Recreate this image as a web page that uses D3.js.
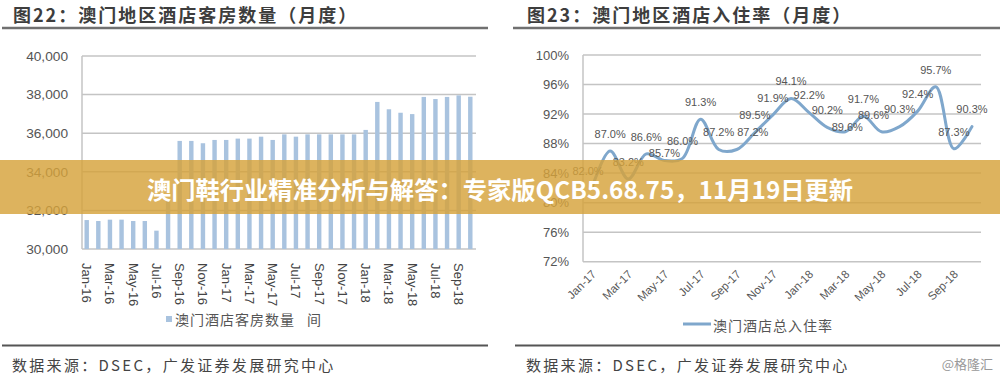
<!DOCTYPE html>
<html lang="zh">
<head>
<meta charset="utf-8">
<script src="https://cdn.jsdelivr.net/npm/d3@7"></script>
<style>
  html, body { margin: 0; padding: 0; background: #fff; }
  svg { display: block; }
  .cjk { font-family: "Noto Sans CJK SC", "Noto Sans", sans-serif; }
  .num { font-family: "Liberation Sans", Arial, sans-serif; }
</style>
</head>
<body>
<svg id="chart" width="1000" height="376"></svg>
<script>
// left chart: hotel rooms, monthly
const roomMonths = [
  "Jan-16", "Feb-16", "Mar-16", "Apr-16", "May-16", "Jun-16", "Jul-16", "Aug-16", "Sep-16", "Oct-16", "Nov-16", "Dec-16",
  "Jan-17", "Feb-17", "Mar-17", "Apr-17", "May-17", "Jun-17", "Jul-17", "Aug-17", "Sep-17", "Oct-17", "Nov-17", "Dec-17",
  "Jan-18", "Feb-18", "Mar-18", "Apr-18", "May-18", "Jun-18", "Jul-18", "Aug-18", "Sep-18", "Oct-18"
];
const roomCount = [
  31500, 31450, 31520, 31520, 31450, 31450, 30950, 32500, 35600, 35600, 35480, 35650,
  35650, 35720, 35720, 35820, 35650, 35940, 35820, 35940, 35940, 35940, 35940, 35940,
  36170, 37620, 37240, 37060, 36990, 37880, 37770, 37880, 37960, 37890
];
const roomTicks = [30000, 32000, 34000, 36000, 38000, 40000];

// right chart: occupancy rate, monthly
const rateMonths = [
  "Jan-17", "Feb-17", "Mar-17", "Apr-17", "May-17", "Jun-17", "Jul-17", "Aug-17", "Sep-17", "Oct-17", "Nov-17", "Dec-17",
  "Jan-18", "Feb-18", "Mar-18", "Apr-18", "May-18", "Jun-18", "Jul-18", "Aug-18", "Sep-18", "Oct-18"
];
const occupancy = [
  82.0, 87.0, 83.2, 86.6, 85.7, 86.0, 91.3, 87.2, 87.2, 89.5, 91.9, 94.1,
  92.2, 90.2, 89.6, 91.7, 89.6, 90.3, 92.4, 95.7, 87.3, 90.3
];
const rateTicks = [72, 76, 80, 84, 88, 92, 96, 100];

const leftTitle = "图22：澳门地区酒店客房数量（月度）";
const rightTitle = "图23：澳门地区酒店入住率（月度）";
const sourceText = "数据来源：DSEC，广发证券发展研究中心";
const bannerText = "澳门鞋行业精准分析与解答：专家版QCB5.68.75，11月19日更新";

(function () {
  "use strict";

  const svg = d3.select("#chart");
  const gridColor = "#c4c4c4";
  const barColor = "#a9c3df";
  const lineColor = "#7fa7cc";
  const textColor = "#555";

  // ---------- headers and footers ----------
  function header(x, lineX1, lineX2, title) {
    svg.append("text")
      .attr("class", "cjk")
      .attr("x", x)
      .attr("y", 14)
      .attr("dominant-baseline", "central")
      .attr("font-size", 18)
      .attr("font-weight", "bold")
      .attr("letter-spacing", 2)
      .attr("fill", "#3d3d3d")
      .text(title);
    svg.append("line")
      .attr("x1", lineX1).attr("x2", lineX2)
      .attr("y1", 28).attr("y2", 28)
      .attr("stroke", "#707070")
      .attr("stroke-width", 2.5);
  }

  function footer(x, lineX1, lineX2) {
    svg.append("line")
      .attr("x1", lineX1).attr("x2", lineX2)
      .attr("y1", 345.5).attr("y2", 345.5)
      .attr("stroke", "#555")
      .attr("stroke-width", 2);
    svg.append("text")
      .attr("class", "cjk")
      .attr("x", x)
      .attr("y", 364)
      .attr("dominant-baseline", "central")
      .attr("font-size", 15)
      .attr("letter-spacing", 2.3)
      .attr("fill", "#444")
      .text(sourceText);
  }

  header(13, 2, 488, leftTitle);
  header(527, 513, 1000, rightTitle);
  footer(12, 2, 488);
  footer(526, 515, 1000);

  svg.append("text")
    .attr("class", "cjk")
    .attr("x", 993)
    .attr("y", 363)
    .attr("text-anchor", "end")
    .attr("dominant-baseline", "central")
    .attr("font-size", 13)
    .attr("fill", "#999")
    .text("@格隆汇");

  // ---------- left: bar chart ----------
  const xBar = d3.scaleBand().domain(roomMonths).range([81, 476]).paddingInner(0.62).paddingOuter(0.3);
  const yBar = d3.scaleLinear().domain([30000, 40000]).range([249, 56]);

  const left = svg.append("g");

  left.append("g")
    .selectAll("line")
    .data(roomTicks)
    .join("line")
    .attr("x1", 82).attr("x2", 476)
    .attr("y1", (d) => yBar(d)).attr("y2", (d) => yBar(d))
    .attr("stroke", gridColor)
    .attr("stroke-width", 1.5);

  left.append("line")
    .attr("x1", 82).attr("x2", 82)
    .attr("y1", yBar(40000)).attr("y2", yBar(30000))
    .attr("stroke", gridColor)
    .attr("stroke-width", 1.5);

  left.append("g")
    .selectAll("text")
    .data(roomTicks)
    .join("text")
    .attr("class", "num")
    .attr("x", 68)
    .attr("y", (d) => yBar(d))
    .attr("dy", "0.35em")
    .attr("text-anchor", "end")
    .attr("font-size", 13.7)
    .attr("fill", textColor)
    .text((d) => d3.format(",")(d));

  left.append("g")
    .selectAll("rect")
    .data(roomCount)
    .join("rect")
    .attr("x", (d, i) => xBar(roomMonths[i]))
    .attr("width", xBar.bandwidth())
    .attr("y", (d) => yBar(d))
    .attr("height", (d) => yBar(30000) - yBar(d))
    .attr("fill", barColor);

  left.append("g")
    .selectAll("text")
    .data(roomMonths.filter((m, i) => i % 2 === 0))
    .join("text")
    .attr("class", "num")
    .attr("transform", (d) => `translate(${xBar(d) + xBar.bandwidth() / 2},263) rotate(90)`)
    .attr("dy", "0.35em")
    .attr("font-size", 13)
    .attr("fill", "#444")
    .text((d) => d);

  left.append("rect")
    .attr("x", 166).attr("y", 316)
    .attr("width", 6).attr("height", 6)
    .attr("fill", barColor);
  left.append("text")
    .attr("class", "cjk")
    .attr("x", 175)
    .attr("y", 319)
    .attr("dominant-baseline", "central")
    .attr("font-size", 14)
    .attr("letter-spacing", 1)
    .attr("fill", textColor)
    .text("澳门酒店客房数量");
  left.append("text")
    .attr("class", "cjk")
    .attr("x", 307)
    .attr("y", 319)
    .attr("dominant-baseline", "central")
    .attr("font-size", 14)
    .attr("fill", textColor)
    .text("间");

  // ---------- right: line chart ----------
  const xLine = d3.scalePoint().domain(rateMonths).range([583, 981]).padding(0.5);
  const yLine = d3.scaleLinear().domain([72, 100]).range([261.7, 55]);

  const right = svg.append("g");

  right.append("g")
    .selectAll("line")
    .data(rateTicks)
    .join("line")
    .attr("x1", 583).attr("x2", 981)
    .attr("y1", (d) => yLine(d)).attr("y2", (d) => yLine(d))
    .attr("stroke", gridColor)
    .attr("stroke-width", 1.5);

  right.append("line")
    .attr("x1", 583).attr("x2", 583)
    .attr("y1", yLine(100)).attr("y2", yLine(72))
    .attr("stroke", gridColor)
    .attr("stroke-width", 1.5);

  right.append("g")
    .selectAll("text")
    .data(rateTicks)
    .join("text")
    .attr("class", "num")
    .attr("x", 569)
    .attr("y", (d) => yLine(d))
    .attr("dy", "0.35em")
    .attr("text-anchor", "end")
    .attr("font-size", 13)
    .attr("fill", textColor)
    .text((d) => d + "%");

  right.append("g")
    .selectAll("text")
    .data(rateMonths.filter((m, i) => i % 2 === 0))
    .join("text")
    .attr("class", "num")
    .attr("transform", (d) => `translate(${xLine(d) + 2},272) rotate(-45)`)
    .attr("dy", "0.35em")
    .attr("text-anchor", "end")
    .attr("font-size", 11.5)
    .attr("fill", textColor)
    .text((d) => d);

  const line = d3.line()
    .x((d, i) => xLine(rateMonths[i]))
    .y((d) => yLine(d))
    .curve(d3.curveCatmullRom.alpha(0.5));

  right.append("path")
    .datum(occupancy)
    .attr("d", line)
    .attr("fill", "none")
    .attr("stroke", lineColor)
    .attr("stroke-width", 3)
    .attr("stroke-linecap", "round");

  // most labels sit 17px above their point; a few are nudged as in the source
  const labelNudge = {
    "Jan-17": { dx: -4, lift: 17 },
    "May-17": { dx: 0, lift: 7 },
    "Sep-17": { dx: 16, lift: 17 },
    "Mar-18": { dx: 2, lift: 5 },
    "May-18": { dx: -8, lift: 17 }
  };
  const nudge = (i) => labelNudge[rateMonths[i]] || { dx: 0, lift: 17 };

  right.append("g")
    .selectAll("text")
    .data(occupancy)
    .join("text")
    .attr("class", "num")
    .attr("x", (d, i) => xLine(rateMonths[i]) + nudge(i).dx)
    .attr("y", (d, i) => yLine(d) - nudge(i).lift)
    .attr("dy", "0.35em")
    .attr("text-anchor", "middle")
    .attr("font-size", 11)
    .attr("fill", textColor)
    .text((d) => d.toFixed(1) + "%");

  right.append("line")
    .attr("x1", 683).attr("x2", 711)
    .attr("y1", 324).attr("y2", 324)
    .attr("stroke", lineColor)
    .attr("stroke-width", 3);
  right.append("text")
    .attr("class", "cjk")
    .attr("x", 713)
    .attr("y", 325)
    .attr("dominant-baseline", "central")
    .attr("font-size", 14)
    .attr("letter-spacing", 1)
    .attr("fill", textColor)
    .text("澳门酒店总入住率");

  // ---------- overlay banner ----------
  svg.append("rect")
    .attr("x", 0).attr("y", 160)
    .attr("width", 1000).attr("height", 54)
    .attr("fill", "rgb(214,162,58)")
    .attr("opacity", 0.82);

  svg.append("text")
    .attr("class", "cjk")
    .attr("x", 500)
    .attr("y", 188)
    .attr("text-anchor", "middle")
    .attr("dominant-baseline", "central")
    .attr("font-size", 24.3)
    .attr("font-weight", "bold")
    .attr("fill", "#fff")
    .text(bannerText);
})();
</script>
</body>
</html>
